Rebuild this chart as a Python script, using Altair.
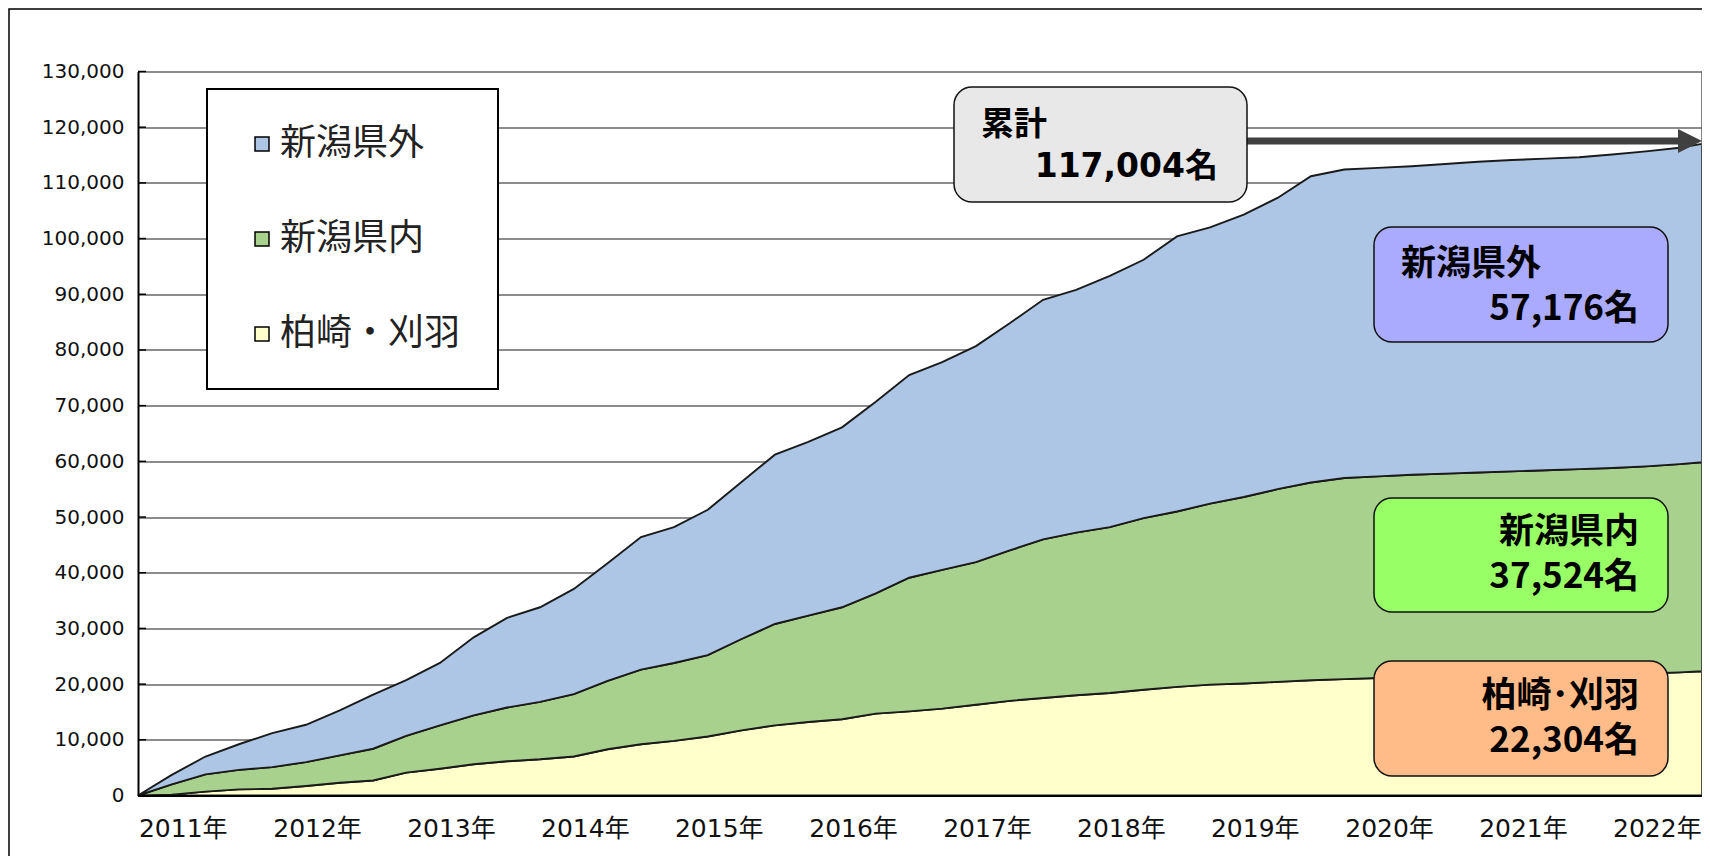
import altair as alt
import pandas as pd

# ---- data (cumulative counts) ----
dates = [
    "2011-03-01", "2011-06-01", "2011-09-01", "2011-12-01",
    "2012-03-01", "2012-06-01", "2012-09-01", "2012-12-01",
    "2013-03-01", "2013-06-01", "2013-09-01", "2013-12-01",
    "2014-03-01", "2014-06-01", "2014-09-01", "2014-12-01",
    "2015-03-01", "2015-06-01", "2015-09-01", "2015-12-01",
    "2016-03-01", "2016-06-01", "2016-09-01", "2016-12-01",
    "2017-03-01", "2017-06-01", "2017-09-01", "2017-12-01",
    "2018-03-01", "2018-06-01", "2018-09-01", "2018-12-01",
    "2019-03-01", "2019-06-01", "2019-09-01", "2019-12-01",
    "2020-03-01", "2020-06-01", "2020-09-01", "2020-12-01",
    "2021-03-01", "2021-06-01", "2021-09-01", "2021-12-01",
    "2022-03-01", "2022-06-01", "2022-09-01", "2022-11-01",
]
kariwa = [0, 150, 700, 1100, 1200, 1700, 2300, 2700, 4100, 4800, 5600, 6150,
          6500, 7000, 8300, 9200, 9800, 10600, 11700, 12600, 13200, 13700, 14700, 15100,
          15600, 16300, 17000, 17500, 18000, 18400, 19000, 19500, 19900, 20100, 20400, 20700,
          20900, 21100, 21150, 21200, 21300, 21400, 21500, 21600, 21750, 21900, 22100, 22304]
kennai = [0, 1850, 3100, 3500, 3900, 4300, 4900, 5700, 6600, 7800, 8800, 9650,
          10300, 11200, 12300, 13400, 14000, 14600, 16400, 18200, 19100, 20100, 21600, 24000,
          24900, 25600, 27000, 28500, 29200, 29800, 30800, 31500, 32500, 33500, 34600, 35500,
          36100, 36200, 36450, 36600, 36700, 36800, 36900, 37000, 37050, 37200, 37400, 37524]
kengai = [0, 1700, 3200, 4600, 6100, 6700, 8100, 9700, 10000, 11200, 14000, 16100,
          17000, 18900, 21100, 23800, 24400, 26100, 28200, 30400, 31200, 32300, 34400, 36400,
          37300, 38800, 40800, 43000, 43600, 45100, 46400, 49400, 49600, 50700, 52300, 55000,
          55400, 55400, 55400, 55600, 55800, 55900, 55950, 56000, 56300, 56550, 56800, 57176]

series_names = ["新潟県外", "新潟県内", "柏崎・刈羽"]
series_colors = ["#adc6e5", "#a9d18e", "#ffffcc"]
stack_order = {"柏崎・刈羽": 0, "新潟県内": 1, "新潟県外": 2}
year_labels = list(range(2011, 2023))
y_ticks = list(range(0, 130001, 10000))

rows = []
for name, vals in [("柏崎・刈羽", kariwa), ("新潟県内", kennai), ("新潟県外", kengai)]:
    for d, v in zip(dates, vals):
        rows.append({"date": d, "series": name, "value": v, "ord": stack_order[name]})
df = pd.DataFrame(rows)

total = kariwa[-1] + kennai[-1] + kengai[-1]

W, H = 1564, 724
JP = "Noto Sans CJK JP"
LAT = "DejaVu Sans, Noto Sans CJK JP"

xscale = alt.Scale(type="utc", nice=False, domain=[
    alt.DateTime(year=2011, month=3, date=1, utc=True),
    alt.DateTime(year=2022, month=11, date=1, utc=True)])
yscale = alt.Scale(domain=[0, 130000], nice=False)

xaxis = alt.Axis(
    values=[alt.DateTime(year=y, month=7, date=1, utc=True) for y in year_labels],
    labelExpr="utcFormat(datum.value, '%Y') + '年'",
    labelFont=LAT, labelFontSize=25, labelColor="#111", labelPadding=21,
    labelBaseline="top", labelFlush=False, labelOverlap=False,
    ticks=False, tickSize=0, domainColor="#000", domainWidth=2, grid=False, zindex=1)
yaxis = alt.Axis(
    values=y_ticks, format=",d",
    labelFont="DejaVu Sans", labelFontSize=20, labelColor="#111", labelPadding=14,
    ticks=False, tickSize=0, domainColor="#000", domainWidth=2,
    grid=True, gridColor="#8c8c8c", gridWidth=2)

legend = alt.Legend(
    orient="none", legendX=69, legendY=17.5, title=None, direction="vertical",
    padding=37, strokeColor="#000", fillColor="#ffffff",
    symbolType="square", symbolSize=196, symbolStrokeColor="#000", symbolStrokeWidth=1.5,
    symbolOffset=0, symbolOpacity=1,
    labelFont=JP, labelFontSize=36, labelColor="#222", labelOffset=0, labelLimit=400,
    rowPadding=59)

area = alt.Chart(df).mark_area(
    opacity=1, interpolate="linear", stroke="#1a1a1a", strokeWidth=1.9,
).encode(
    x=alt.X("date:T", scale=xscale, axis=xaxis, title=None),
    y=alt.Y("value:Q", stack="zero", scale=yscale, axis=yaxis, title=None),
    color=alt.Color("series:N", scale=alt.Scale(domain=series_names, range=series_colors),
                    legend=legend),
    order=alt.Order("ord:Q"),
)

one = alt.Data(values=[{"k": 1}])

frame = alt.Chart(one).mark_rect(fill="transparent", stroke="#000", strokeWidth=1.5).encode(
    x=alt.value(-129), x2=alt.value(1800), y=alt.value(-62.5), y2=alt.value(1000))

stubs = alt.Chart(pd.DataFrame({"v": y_ticks})).mark_rule(color="#000", strokeWidth=1.5).encode(
    y=alt.Y("v:Q", scale=yscale, axis=yaxis, title=None), x=alt.value(0), x2=alt.value(8))

right_edge = alt.Chart(one).mark_rule(color="#5a5a5a", strokeWidth=1.5).encode(
    x=alt.value(W), y=alt.value(0), y2=alt.value(H))

arrow_line = alt.Chart(one).mark_rule(color="#404040", strokeWidth=7).encode(
    x=alt.value(1109), x2=alt.value(1545), y=alt.value(69.5))
arrow_head = alt.Chart(one).mark_point(
    shape="M-1,-1L1,0L-1,1Z", size=576, filled=True, color="#404040", opacity=1).encode(
    x=alt.value(1552), y=alt.value(69.5))


def box(x1, x2, y1, y2, fill):
    return alt.Chart(one).mark_rect(fill=fill, stroke="#111", strokeWidth=1.5,
                                    cornerRadius=18).encode(
        x=alt.value(x1), x2=alt.value(x2), y=alt.value(y1), y2=alt.value(y2))


def label(txt, x, y, align, size, font):
    return alt.Chart(one).mark_text(text=txt, align=align, baseline="middle", font=font,
                                    fontSize=size, fontWeight="bold", color="#000").encode(
        x=alt.value(x), y=alt.value(y))


decor = [
    box(816, 1109, 15.5, 130.5, "#e8e8e8"),
    label("累計", 843, 53.5, "left", 33, JP),
    label(f"{total:,}名", 1080, 95.5, "right", 33, LAT),
    box(1236, 1530, 155.5, 270.5, "#aaaaff"),
    label("新潟県外", 1263, 192.5, "left", 35, JP),
    label(f"{kengai[-1]:,}名", 1501, 237.5, "right", 35, JP),
    box(1236, 1530, 426.5, 540.5, "#99ff66"),
    label("新潟県内", 1501, 460.5, "right", 35, JP),
    label(f"{kennai[-1]:,}名", 1501, 505.5, "right", 35, JP),
    box(1236, 1530, 589.5, 704.5, "#ffbb88"),
    label("柏崎･刈羽", 1501, 624.5, "right", 35, JP),
    label(f"{kariwa[-1]:,}名", 1501, 669.5, "right", 35, JP),
]

chart = alt.layer(frame, area, stubs, right_edge, arrow_line, arrow_head, *decor).properties(
    width=W, height=H,
    padding={"left": 130, "top": 63.5, "right": 0, "bottom": 60},
    autosize=alt.AutoSizeParams(type="none"),
    background="#ffffff",
).configure_view(stroke=None).configure_legend(strokeWidth=2)

chart.save("out.html", embed_options={"renderer": "svg", "actions": False})
